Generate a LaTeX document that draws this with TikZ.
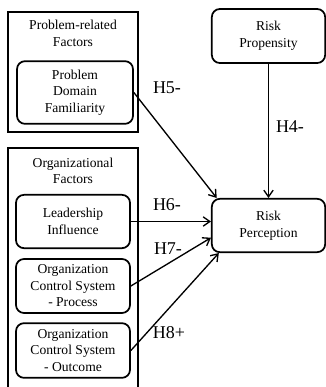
\documentclass[tikz,border=0pt]{standalone}
\usepackage{fontspec}
\setmainfont{Liberation Serif}
\usetikzlibrary{arrows.meta}

\begin{document}
\begin{tikzpicture}[->,>={Straight Barb[length=5pt,width=7pt]},x=0.75pt,y=-0.75pt,
  font=\fontsize{10.2}{12.4}\selectfont,line width=1pt]
\tikzstyle{group}=[draw,rectangle,line width=1.6pt,inner sep=0pt]
\tikzstyle{factor}=[draw,rectangle,line width=1.3pt,rounded corners=6pt,align=center,
  inner sep=2pt,minimum width=85.5pt]
\tikzstyle{hyp}=[inner sep=1pt,font=\fontsize{13.5}{16}\selectfont]
\useasboundingbox (0,0) rectangle (326,387);
% groups
\node[group,minimum width=97.5pt,minimum height=90pt] (probgrp) at (73,72) {};
\node[align=center] (probttl) at (73,33.5) {Problem-related\\Factors};
\node[group,minimum width=97.5pt,minimum height=189pt] (orggrp) at (73,274) {};
\node[align=center] (orgttl) at (73,171) {Organizational\\Factors};
% factors
\node[factor,minimum width=87pt,minimum height=47pt] (pdf) at (75,92.5) {Problem\\Domain\\Familiarity};
\node[factor,minimum height=40pt] (lead) at (73,221.5) {Leadership\\Influence};
\node[factor,minimum height=40.5pt] (ocsp) at (73,286) {Organization\\Control System\\- Process};
\node[factor,minimum height=41pt] (ocso) at (73,350.5) {Organization\\Control System\\- Outcome};
\node[factor,minimum width=85pt,minimum height=40.5pt] (riskprop) at (268.5,36) {Risk\\Propensity};
\node[factor,minimum width=85pt,minimum height=40pt] (riskperc) at (268.5,225.5) {Risk\\Perception};
% hypotheses
\draw (riskprop) -- (riskperc);
\draw (pdf.east) -- (riskperc.152);
\draw (lead.east) -- (lead.east -| riskperc.west);
\draw (ocsp.east) -- (riskperc.192);
\draw (ocso.east) -- (riskperc.209);
\node[hyp] (h4) at (290,127) {H4-};
\node[hyp] (h5) at (167,88) {H5-};
\node[hyp] (h6) at (167,205) {H6-};
\node[hyp] (h7) at (168,249) {H7-};
\node[hyp] (h8) at (169,333) {H8+};
\end{tikzpicture}
\end{document}
